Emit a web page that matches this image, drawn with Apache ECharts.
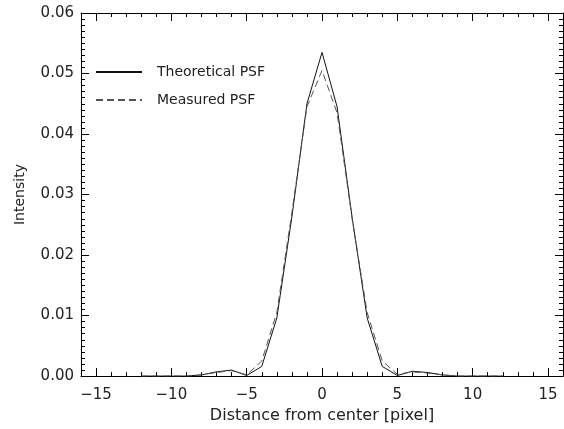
<!DOCTYPE html>
<html>
<head>
<meta charset="utf-8">
<script src="https://cdn.jsdelivr.net/npm/echarts@6/dist/echarts.min.js"></script>
<style>
html, body { margin: 0; padding: 0; background: #fff; }
#main { width: 564px; height: 429px; }
</style>
</head>
<body>
<div id="main"></div>
<script>
// pixel offsets from center
var xPix = [-12, -11, -10, -9, -8, -7, -6, -5, -4, -3, -2, -1, 0, 1, 2, 3, 4, 5, 6, 7, 8, 9, 10, 11, 12];
var theoretical = [0, 0, 0, 0, 0.0002, 0.0007, 0.0010, 0.0001, 0.0016, 0.0096, 0.0263, 0.0450, 0.0535, 0.0445, 0.0262, 0.0096, 0.0016, 0.0001, 0.0008, 0.0006, 0.0002, 0, 0, 0, 0];
var measured = [0, 0, 0, 0, 0.0002, 0.0006, 0.0009, 0.0002, 0.0025, 0.0105, 0.0270, 0.0445, 0.0505, 0.0435, 0.0260, 0.0105, 0.0025, 0.0003, 0.0007, 0.0005, 0.0002, 0, 0, 0, 0];
var xMajor = [-15, -10, -5, 0, 5, 10, 15];

var chart = echarts.init(document.getElementById('main'));
var fnt = 'DejaVu Sans';
var ink = '#222';

function pairs(ys) {
    return xPix.map(function (x, i) { return [x, ys[i]]; });
}

function xAx(pos, major, labels) {
    return {
        type: 'value', position: pos, min: -16, max: 16,
        interval: major ? undefined : 1,
        axisLine: { show: major, onZero: false, lineStyle: { color: '#000', width: 1 } },
        axisTick: major
            ? { show: true, inside: true, length: 8, customValues: xMajor, lineStyle: { color: '#000' } }
            : { show: true, inside: true, length: 4, lineStyle: { color: '#000' } },
        axisLabel: labels
            ? { show: true, customValues: xMajor, margin: 12, color: ink, fontFamily: fnt, fontSize: 15,
                formatter: function (v) { return v < 0 ? '\u2212' + (-v) : '' + v; } }
            : { show: false },
        splitLine: { show: false },
        name: labels ? 'Distance from center [pixel]' : '',
        nameLocation: 'middle', nameGap: 30,
        nameTextStyle: { color: ink, fontFamily: fnt, fontSize: 16 }
    };
}

var option = {
    animation: false,
    backgroundColor: '#fff',
    grid: { left: 81, right: 1, top: 13, bottom: 47 },
    legend: {
        orient: 'vertical', left: 90, top: 60,
        itemWidth: 46, itemHeight: 14, itemGap: 14,
        itemStyle: { opacity: 0 },
        textStyle: { color: ink, fontFamily: fnt, fontSize: 14, padding: [0, 0, 0, 10] },
        data: ['Theoretical PSF', 'Measured PSF']
    },
    xAxis: [xAx('bottom', true, true), xAx('bottom', false, false), xAx('top', true, false), xAx('top', false, false)],
    yAxis: [0, 1].map(function (k) {
        return {
            type: 'value', position: k ? 'right' : 'left', min: 0, max: 0.06, interval: 0.01,
            axisLine: { show: true, onZero: false, lineStyle: { color: '#000', width: 1 } },
            axisTick: { show: true, inside: true, length: 8, lineStyle: { color: '#000' } },
            minorTick: { show: true, splitNumber: 10, length: 4, lineStyle: { color: '#000' } },
            axisLabel: k ? { show: false } : { show: true, margin: 7, color: ink, fontFamily: fnt, fontSize: 15,
                formatter: function (v) { return v.toFixed(2); } },
            splitLine: { show: false },
            name: k ? '' : 'Intensity',
            nameLocation: 'middle', nameGap: 54,
            nameTextStyle: { color: ink, fontFamily: fnt, fontSize: 14 }
        };
    }),
    series: [
        {
            name: 'Theoretical PSF', type: 'line', symbol: 'none', xAxisIndex: 0, yAxisIndex: 0,
            lineStyle: { color: '#111', width: 1, type: 'solid' },
            itemStyle: { color: '#111' },
            data: pairs(theoretical)
        },
        {
            name: 'Measured PSF', type: 'line', symbol: 'none', xAxisIndex: 0, yAxisIndex: 0,
            lineStyle: { color: '#555', width: 1, type: [7, 4] },
            itemStyle: { color: '#555' },
            data: pairs(measured)
        }
    ]
};
chart.setOption(option);
</script>
</body>
</html>
